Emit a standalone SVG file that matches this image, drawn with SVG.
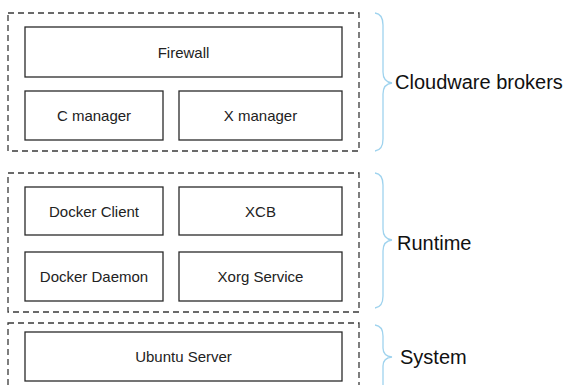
<svg xmlns="http://www.w3.org/2000/svg" width="571" height="385" viewBox="0 0 571 385">
<style>
.layer{fill:none;stroke:#3a3a3a;stroke-width:1.3;stroke-dasharray:6 4}
.box{fill:#fff;stroke:#2a2a2a;stroke-width:1.3}
.t{font-family:"Liberation Sans",Arial,sans-serif;font-size:15px;fill:#222;text-anchor:middle}
.lbl{font-family:"Liberation Sans",Arial,sans-serif;font-size:20px;fill:#111}
.brace{fill:none;stroke:#9fd3ee;stroke-width:1.3}
</style>
<rect width="571" height="385" fill="#fff"/>
<g id="layer-cloudware"><rect class="layer" x="8" y="13" width="351" height="138"/></g>
<g id="layer-runtime"><rect class="layer" x="8" y="173" width="351" height="139"/></g>
<g id="layer-system"><rect class="layer" x="8" y="323" width="351" height="80"/></g>
<g id="firewall"><rect class="box" x="25" y="27" width="317" height="50"/><text class="t" x="183.5" y="58">Firewall</text></g>
<g id="c-manager"><rect class="box" x="25" y="91" width="138" height="49"/><text class="t" x="94" y="121">C manager</text></g>
<g id="x-manager"><rect class="box" x="179" y="91" width="163" height="49"/><text class="t" x="260.5" y="121">X manager</text></g>
<g id="docker-client"><rect class="box" x="25" y="187" width="138" height="48"/><text class="t" x="94" y="216.5">Docker Client</text></g>
<g id="xcb"><rect class="box" x="179" y="187" width="163" height="48"/><text class="t" x="260.5" y="216.5">XCB</text></g>
<g id="docker-daemon"><rect class="box" x="25" y="252" width="138" height="49"/><text class="t" x="94" y="282">Docker Daemon</text></g>
<g id="xorg-service"><rect class="box" x="179" y="252" width="163" height="49"/><text class="t" x="260.5" y="282">Xorg Service</text></g>
<g id="ubuntu-server"><rect class="box" x="25" y="332" width="317" height="49"/><text class="t" x="183.5" y="362">Ubuntu Server</text></g>
<g id="brace-cloudware"><path class="brace" d="M375,13 Q383,14 383,25 L383,72 Q383,82 392,83 Q383,84 383,94 L383,139 Q383,150 375,151"/><text class="lbl" x="395" y="89">Cloudware brokers</text></g>
<g id="brace-runtime"><path class="brace" d="M375,173 Q383,174 383,185 L383,229 Q383,239 392,240 Q383,241 383,251 L383,296 Q383,307 375,308"/><text class="lbl" x="397" y="250">Runtime</text></g>
<g id="brace-system"><path class="brace" d="M375,325 Q383,326 383,336 L383,348 Q383,356 392,357 Q383,358 383,366 L383,395"/><text class="lbl" x="400" y="364">System</text></g>
<g id="connectors"></g>
</svg>
